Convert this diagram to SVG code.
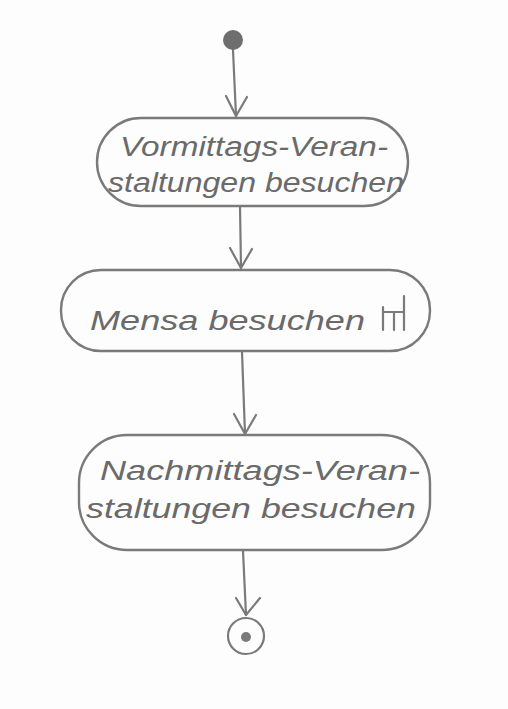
<svg xmlns="http://www.w3.org/2000/svg" width="508" height="709" viewBox="0 0 508 709">
<defs>
<marker id="arr" viewBox="0 0 20 20" refX="10" refY="18" markerWidth="20" markerHeight="20" markerUnits="userSpaceOnUse" orient="auto-start-reverse">
<path d="M0,2 L10,18 L20,2" fill="none" stroke="#7a7a7a" stroke-width="2.2" stroke-linecap="round" stroke-linejoin="round" transform="rotate(-90 10 10)"/>
</marker>
<style>
.box{fill:none;stroke:#7a7a7a;stroke-width:2.4}
.lbl{font-family:"Liberation Sans",Arial,sans-serif;font-size:27px;fill:#6a6a6a;font-style:italic}
.edge{fill:none;stroke:#7a7a7a;stroke-width:2.2;stroke-linecap:round}
.ah{fill:none;stroke:#7a7a7a;stroke-width:2.2;stroke-linecap:round;stroke-linejoin:round}
</style>
</defs>
<rect width="508" height="709" fill="#fdfdfd"/>
<g id="connectors">
<path class="edge" d="M233,50 L236,116"/>
<path class="ah" d="M226,96 L236,116 L247,97"/>
<path class="edge" d="M240,206 L241,268"/>
<path class="ah" d="M230,248 L241,268 L252,249"/>
<path class="edge" d="M242,352 L245,434"/>
<path class="ah" d="M234,414 L245,434 L256,415"/>
<path class="edge" d="M243,551 L246,615"/>
<path class="ah" d="M236,598 L246,615 L260,598"/>
</g>
<g id="start">
<circle cx="233" cy="40" r="10" fill="#6e6e6e"/>
</g>
<g id="vormittags">
<rect class="box" x="97" y="118" width="311" height="88" rx="44"/>
<text class="lbl" x="120" y="156" textLength="268" lengthAdjust="spacingAndGlyphs">Vormittags-Veran-</text>
<text class="lbl" x="108" y="192" textLength="296" lengthAdjust="spacingAndGlyphs">staltungen besuchen</text>
</g>
<g id="mensa">
<rect class="box" x="61" y="270" width="369" height="81" rx="40"/>
<text class="lbl" x="90" y="330" textLength="275" lengthAdjust="spacingAndGlyphs">Mensa besuchen</text>
<path class="edge" d="M383,307 L383,330 M383,312 L404,312 M394,312 L394,330 M404,296 L404,330"/>
</g>
<g id="nachmittags">
<rect class="box" x="79" y="435" width="351" height="115" rx="48"/>
<text class="lbl" x="100" y="480" textLength="320" lengthAdjust="spacingAndGlyphs">Nachmittags-Veran-</text>
<text class="lbl" x="86" y="518" textLength="330" lengthAdjust="spacingAndGlyphs">staltungen besuchen</text>
</g>
<g id="end">
<circle cx="246" cy="636" r="18" fill="none" stroke="#7a7a7a" stroke-width="2.2"/>
<circle cx="246" cy="637" r="5" fill="#7a7a7a"/>
</g>
</svg>
